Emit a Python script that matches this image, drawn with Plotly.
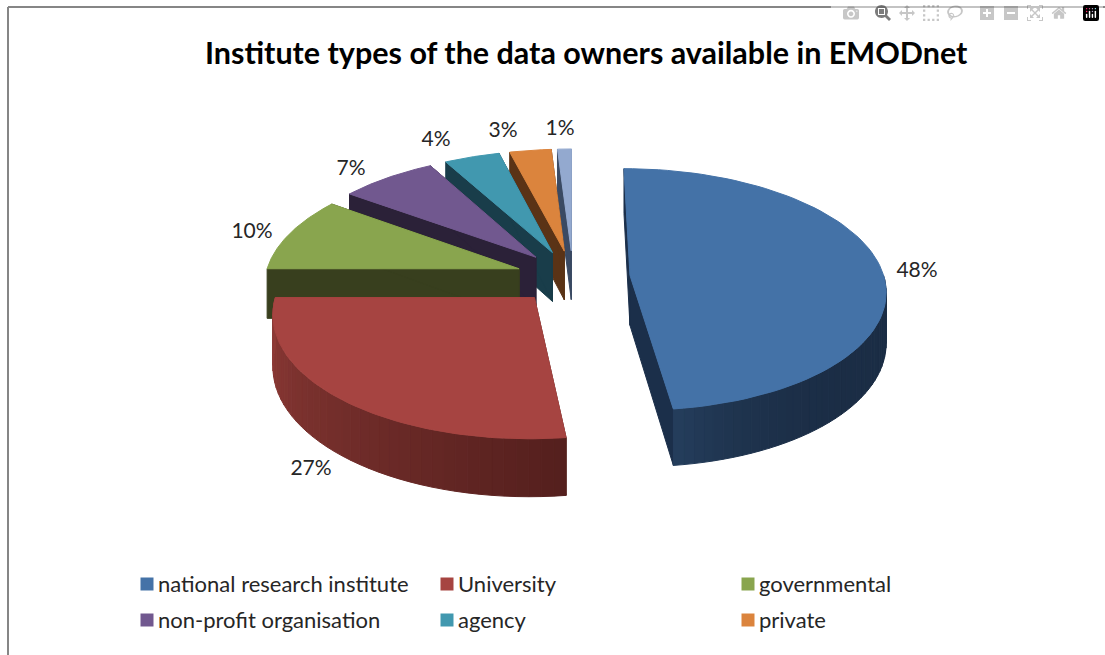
#%%
import numpy as np
import plotly.graph_objects as go

#%%
# Values
categories = ["national research institute", "University", "governmental",
              "non-profit organisation", "agency", "private", ""]
shares = [48, 27, 10, 7, 4, 3, 1]

top_colors = ["#4472a7", "#a64441", "#89a54e", "#71588f", "#4198af", "#db843d", "#93a9cf"]
wall_colors = ["#1b2f4a", "#57201e", "#383f1e", "#2b2138", "#193d4a", "#5a3316", "#3a4a63"]
# rim shading, from the end of the slice that runs down to the front
rim_dark = {0: (27, 45, 69), 1: (85, 32, 30)}
rim_light = {0: (38, 64, 95), 1: (145, 60, 56)}

title = "Institute types of the data owners available in EMODnet"

# label spots and the legend grid, in picture pixels
label_x = [917, 311, 252, 351, 436, 503, 560]
label_y = [272, 470, 233, 170, 141, 132, 130]
legend_x = [147, 447, 748, 147, 447, 748]
legend_y = [584, 584, 584, 620, 620, 620]
legend_text_x = [158, 458, 759, 158, 458, 759]
legend_text_y = [586, 586, 586, 622, 622, 622]

# Fake 3D pie: perspective projection fitted to the picture
CX, CY = 573, 277
RX, RY = 254, 119.5
PERSP = 0.117
EXPLODE = 0.225
DEPTH = 50
FONT = "Lato"


def project(x, y, drop=0):
    w = 1 + PERSP * y
    return CX + RX * x / w, CY - RY * y / w + drop / w


def slice_point(theta, mid, radius=1.0, drop=0):
    x = radius * np.sin(theta) + EXPLODE * np.sin(mid)
    y = radius * np.cos(theta) + EXPLODE * np.cos(mid)
    return project(x, y, drop)


def poly(fig, pts, color):
    xs = [p[0] for p in pts]
    ys = [p[1] for p in pts]
    fig.add_trace(go.Scatter(x=xs + xs[:1], y=ys + ys[:1], mode="lines", fill="toself",
                             fillcolor=color, line=dict(color=color, width=1),
                             hoverinfo="skip", showlegend=False))


#%%
fig = go.Figure()

edges = np.radians(np.cumsum([0] + shares) * 3.6)
slices = [(i, edges[i], edges[i + 1]) for i in range(len(shares))]

# back slices first, so the nearer ones cover their walls
for i, start, end in [slices[k] for k in (6, 5, 4, 3, 2, 0, 1)]:
    mid = (start + end) / 2
    centre_top = slice_point(start, mid, 0)
    centre_low = slice_point(start, mid, 0, DEPTH)

    # the two cut faces
    for edge in (start, end):
        poly(fig, [centre_top, slice_point(edge, mid), slice_point(edge, mid, 1, DEPTH), centre_low],
             wall_colors[i])

    # outer wall, only the part facing the viewer
    if i in rim_dark:
        lo = max(start, np.pi / 2) if i == 0 else start
        hi = end
        steps = np.linspace(lo, hi, 41)
        for a, b in zip(steps[:-1], steps[1:]):
            t = (a - lo) / (hi - lo)
            # blue only lightens right at its tip, red runs light to dark going left
            t = t ** 5 if i == 0 else t
            rgb = [int(d + (l - d) * t) for d, l in zip(rim_dark[i], rim_light[i])]
            color = "rgb(%d,%d,%d)" % tuple(rgb)
            poly(fig, [slice_point(a, mid), slice_point(b, mid),
                       slice_point(b, mid, 1, DEPTH), slice_point(a, mid, 1, DEPTH)], color)

    # top face
    arc = [slice_point(a, mid) for a in np.linspace(start, end, 80)]
    poly(fig, [centre_top] + arc, top_colors[i])

# percentage labels
fig.add_trace(go.Scatter(x=label_x, y=label_y, mode="text", text=["%d%%" % v for v in shares],
                         textposition="middle center",
                         textfont=dict(family=FONT, size=21, color="#262626"),
                         hoverinfo="skip", showlegend=False))

# legend keys, the last slice has none in the picture
fig.add_trace(go.Scatter(x=legend_x, y=legend_y, mode="markers",
                         marker=dict(symbol="square", size=13, color=top_colors[:6]),
                         hoverinfo="skip", showlegend=False))
fig.add_trace(go.Scatter(x=legend_text_x, y=legend_text_y, mode="text", text=categories[:6],
                         textposition="middle right",
                         textfont=dict(family=FONT, size=22, color="#262626"),
                         hoverinfo="skip", showlegend=False))

fig.update_xaxes(range=[0, 1105], visible=False)
fig.update_yaxes(range=[655, 0], visible=False)
fig.update_layout(
    width=1105, height=655,
    margin=dict(l=0, r=0, t=0, b=0),
    paper_bgcolor="white", plot_bgcolor="white",
    showlegend=False,
    annotations=[dict(text="<b>%s</b>" % title, x=586, y=52, xref="x", yref="y",
                      showarrow=False, font=dict(family=FONT, size=30.5, color="black"))],
    shapes=[dict(type="line", xref="x", yref="y", x0=8, x1=1105, y0=7, y1=7,
                 line=dict(color="#868686", width=2)),
            dict(type="line", xref="x", yref="y", x0=8, x1=8, y0=7, y1=655,
                 line=dict(color="#868686", width=2))],
)

# drop the default page margin so the picture starts at the window corner
fig.write_html("out.html", post_script="document.body.style.margin = '0';")
